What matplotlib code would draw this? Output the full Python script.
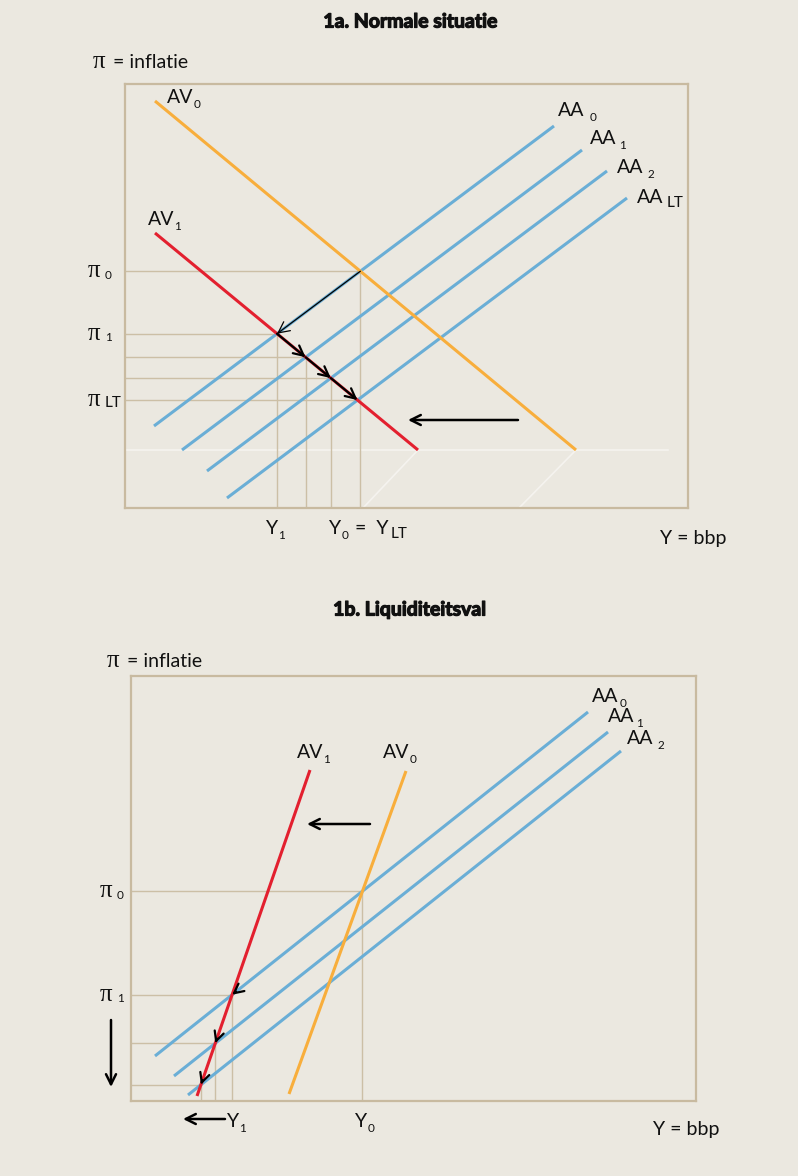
import numpy as np
import matplotlib
matplotlib.use('Agg')
import matplotlib.pyplot as plt
import matplotlib.patheffects as pe

W, H = 798, 1176
BG = '#ebe8e0'
TAN = '#c8baa0'
GUIDE = '#ccbfa6'
BLUE = '#6aaed6'
ORANGE = '#f8ae3c'
RED = '#e3202f'
FAINT = '#f5f3ef'
SANS = ['Lato', 'DejaVu Sans']
SERIF = ['Liberation Serif', 'DejaVu Serif']

# ---------------- data: panel 1a (Y on x, inflation on y) ----------------
a_av0_x = [30, 451]
a_av0_y = [407, 58]
a_av1_x = [30, 293]
a_av1_y = [275, 58]
a_aa_names = ['0', '1', '2', 'LT']
a_aa_x = [[29, 429], [57, 457], [82, 482], [102, 502]]
a_aa_y = [[82, 382], [58, 358], [37, 337], [10, 310]]
a_shift_x = [393, 283]
a_shift_y = [88, 88]

# ---------------- data: panel 1b ----------------
b_av1_x = [179, 66]
b_av1_y = [331, 5]
b_av0_x = [275, 158]
b_av0_y = [330, 7]
b_aa_names = ['0', '1', '2']
b_aa_x = [[24, 457], [43, 477], [57, 490]]
b_aa_y = [[45, 389], [25, 369], [6, 350]]
b_shift_x = [239, 176]
b_shift_y = [277, 277]
b_down_x = [-20, -20]
b_down_y = [81, 14]
b_yarrow_x = [94, 52]
b_yarrow_y = [-18, -18]


def inter(x1, y1, x2, y2):
    p1, p2 = np.array([x1[0], y1[0]], float), np.array([x1[1], y1[1]], float)
    q1, q2 = np.array([x2[0], y2[0]], float), np.array([x2[1], y2[1]], float)
    d1, d2 = p2 - p1, q2 - q1
    A = np.array([d1, -d2]).T
    t = np.linalg.solve(A, q1 - p1)
    return p1 + t[0] * d1


fig = plt.figure(figsize=(W / 100, H / 100), dpi=100, facecolor=BG)


def make_ax(l, t, r, b):
    ax = fig.add_axes([l / W, 1 - b / H, (r - l) / W, (b - t) / H])
    ax.set_facecolor(BG)
    ax.set_xlim(0, r - l)
    ax.set_ylim(0, b - t)
    ax.set_xticks([])
    ax.set_yticks([])
    for s in ax.spines.values():
        s.set_color(TAN)
        s.set_linewidth(1.6)
    return ax


def sublabel(ax, x, y, main, sub, size=14, subsize=8.5, gap=1, drop=-3,
             family=SANS, va='baseline'):
    t = ax.text(x, y, main, fontsize=size, family=family, va=va, ha='left',
                clip_on=False, color='#111111')
    s = ax.annotate(sub, xy=(1, 0), xycoords=t, xytext=(gap, drop),
                    textcoords='offset points', fontsize=subsize, family=SANS,
                    va='bottom', ha='left', annotation_clip=False, color='#111111')
    return t, s


def pi_label(ax, x, y, sub, subsize=8.5):
    t = ax.text(x, y, 'π', fontsize=18, family=SERIF, va='center', ha='left',
                clip_on=False, color='#111111')
    ax.annotate(sub, xy=(1, 0), xycoords=t, xytext=(3, 1),
                textcoords='offset points', fontsize=subsize, family=SANS,
                va='bottom', ha='left', annotation_clip=False, color='#111111')


def arrow(ax, x0, y0, x1, y1, lw=1.5, ms=14):
    ax.annotate('', xy=(x1, y1), xytext=(x0, y0),
                arrowprops=dict(arrowstyle='->', color='black', lw=lw,
                                shrinkA=0, shrinkB=0, mutation_scale=ms),
                annotation_clip=False)


def inflatie(x, y):
    fig.text(x / W, 1 - y / H, 'π', fontsize=18, family=SERIF, va='baseline', ha='left',
             color='#111111')
    fig.text((x + 20) / W, 1 - y / H, '= inflatie', fontsize=14, family=SANS,
             va='baseline', ha='left', color='#111111')


def title(x, y, s):
    fig.text(x / W, 1 - y / H, s, fontsize=14, family=SANS, weight='bold',
             ha='center', va='center', color='#111111',
             path_effects=[pe.withStroke(linewidth=0.9, foreground='#111111')])


# ======================= Panel 1a =======================
title(411, 22, '1a. Normale situatie')
inflatie(93, 68)
axA = make_ax(125, 84, 688, 508)

# faint construction lines
axA.plot([0, 543], [a_av1_y[1], a_av1_y[1]], color=FAINT, lw=1.2)
axA.plot([a_av1_x[1], a_av1_x[1] - 55], [a_av1_y[1], 0], color=FAINT, lw=1.2)
axA.plot([a_av0_x[1], a_av0_x[1] - 57], [a_av0_y[1], 0], color=FAINT, lw=1.2)

P0 = inter(a_av0_x, a_av0_y, a_aa_x[0], a_aa_y[0])
Ps = [inter(a_av1_x, a_av1_y, a_aa_x[i], a_aa_y[i]) for i in range(4)]

# guide lines
axA.plot([0, P0[0]], [P0[1], P0[1]], color=GUIDE, lw=1)
axA.plot([P0[0], P0[0]], [P0[1], 0], color=GUIDE, lw=1)
for i, p in enumerate(Ps):
    xe = P0[0] if i == 3 else p[0]
    axA.plot([0, xe], [p[1], p[1]], color=GUIDE, lw=1)
    if i < 3:
        axA.plot([p[0], p[0]], [p[1], 2 if i == 0 else 0], color=GUIDE, lw=1)

for xs, ys in zip(a_aa_x, a_aa_y):
    axA.plot(xs, ys, color=BLUE, lw=2.2, solid_capstyle='butt')
axA.plot(a_av0_x, a_av0_y, color=ORANGE, lw=2.2, solid_capstyle='butt')
axA.plot(a_av1_x, a_av1_y, color=RED, lw=2.2, solid_capstyle='butt')

# arrows
arrow(axA, P0[0], P0[1], Ps[0][0], Ps[0][1], lw=0.9, ms=20)
for i in range(3):
    arrow(axA, Ps[i][0], Ps[i][1], Ps[i + 1][0], Ps[i + 1][1], lw=1.6, ms=18)
arrow(axA, a_shift_x[0], a_shift_y[0], a_shift_x[1], a_shift_y[1], lw=1.8, ms=18)

# labels
sublabel(axA, 42, 405, 'AV', '0', gap=0)
sublabel(axA, 23, 283, 'AV', '1', gap=0)
sublabel(axA, 433, 392, 'AA', '0', gap=4)
sublabel(axA, 465, 364, 'AA', '1', gap=2)
sublabel(axA, 492, 335, 'AA', '2', gap=3)
sublabel(axA, 512, 305, 'AA', 'LT', gap=2, subsize=11)
pi_label(axA, -37, P0[1], '0')
pi_label(axA, -37, Ps[0][1], '1')
pi_label(axA, -37, Ps[3][1], 'LT', subsize=11)
sublabel(axA, Ps[0][0] - 11, -26, 'Y', '1', gap=0)
t, s = sublabel(axA, P0[0] - 31, -26, 'Y', '0', gap=0)
t2 = axA.annotate('=  Y', xy=(1, 0), xycoords=(s, t), xytext=(5, 0),
                  textcoords='offset points', fontsize=14, family=SANS,
                  va='bottom', ha='left', annotation_clip=False, color='#111111')
axA.annotate('LT', xy=(1, 0), xycoords=t2, xytext=(1, -3),
             textcoords='offset points', fontsize=11, family=SANS,
             va='bottom', ha='left', annotation_clip=False, color='#111111')
fig.text(660 / W, 1 - 544 / H, 'Y = bbp', fontsize=14, family=SANS, ha='left',
         va='baseline', color='#111111')

# ======================= Panel 1b =======================
title(410, 610, '1b. Liquiditeitsval')
inflatie(107, 667)
axB = make_ax(131, 676, 696, 1101)

Q0 = inter(b_av0_x, b_av0_y, b_aa_x[0], b_aa_y[0])
Qs = [inter(b_av1_x, b_av1_y, b_aa_x[i], b_aa_y[i]) for i in range(3)]

axB.plot([0, Q0[0]], [Q0[1], Q0[1]], color=GUIDE, lw=1)
axB.plot([Q0[0], Q0[0]], [Q0[1], 0], color=GUIDE, lw=1)
for p in Qs:
    axB.plot([0, p[0]], [p[1], p[1]], color=GUIDE, lw=1)
    axB.plot([p[0], p[0]], [p[1], 0], color=GUIDE, lw=1)

for xs, ys in zip(b_aa_x, b_aa_y):
    axB.plot(xs, ys, color=BLUE, lw=2.2, solid_capstyle='butt')
axB.plot(b_av0_x, b_av0_y, color=ORANGE, lw=2.2, solid_capstyle='butt')
axB.plot(b_av1_x, b_av1_y, color=RED, lw=2.2, solid_capstyle='butt')

# arrowheads only at the intersections
prev = [Q0] + Qs[:-1]
for a, b in zip(prev, Qs):
    d = (b - a) / np.linalg.norm(b - a)
    st = b - d * 5
    arrow(axB, st[0], st[1], b[0], b[1], lw=1.6, ms=17)

arrow(axB, b_shift_x[0], b_shift_y[0], b_shift_x[1], b_shift_y[1], lw=1.8, ms=18)
arrow(axB, b_down_x[0], b_down_y[0], b_down_x[1], b_down_y[1], lw=1.8, ms=18)
arrow(axB, b_yarrow_x[0], b_yarrow_y[0], b_yarrow_x[1], b_yarrow_y[1], lw=1.8, ms=18)

sublabel(axB, 166, 343, 'AV', '1', gap=0)
sublabel(axB, 252, 343, 'AV', '0', gap=0)
sublabel(axB, 461, 399, 'AA', '0', gap=1)
sublabel(axB, 477, 379, 'AA', '1', gap=1)
sublabel(axB, 496, 357, 'AA', '2', gap=3)
pi_label(axB, -31, Q0[1], '0')
pi_label(axB, -31, Qs[0][1], '1')
sublabel(axB, 96, -26, 'Y', '1', gap=0)
sublabel(axB, 224, -26, 'Y', '0', gap=0)
fig.text(653 / W, 1 - 1135 / H, 'Y = bbp', fontsize=14, family=SANS, ha='left',
         va='baseline', color='#111111')

fig.savefig('out.png', dpi=100, facecolor=BG)
